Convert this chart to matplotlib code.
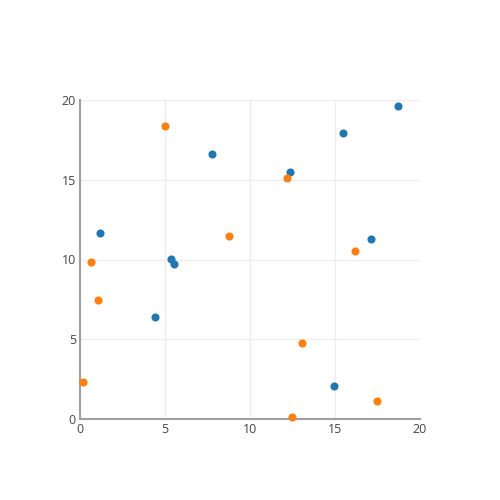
import matplotlib
matplotlib.use("Agg")
import matplotlib.pyplot as plt

blue_x = [1.15, 4.4, 5.35, 5.53, 7.75, 12.35, 15.47, 17.1, 14.95, 18.7]
blue_y = [11.66, 6.4, 10.05, 9.7, 16.6, 15.5, 17.93, 11.28, 2.05, 19.6]
orange_x = [0.65, 5.0, 8.76, 12.2, 16.16, 1.04, 0.2, 13.06, 12.49, 17.47]
orange_y = [9.86, 18.35, 11.47, 15.13, 10.53, 7.44, 2.34, 4.76, 0.15, 1.1]
ticks = [0, 5, 10, 15, 20]

plt.rcParams['font.family'] = ['Open Sans', 'DejaVu Sans']
fig = plt.figure(figsize=(5, 5), dpi=100)
ax = fig.add_axes([0.16, 0.162, 0.68, 0.638])
ax.scatter(blue_x, blue_y, s=34, color='#1f77b4', linewidths=0, zorder=3, clip_on=False)
ax.scatter(orange_x, orange_y, s=34, color='#ff7f0e', linewidths=0, zorder=3, clip_on=False)
ax.set_xlim(0, 20)
ax.set_ylim(0, 20)
ax.set_xticks(ticks)
ax.set_yticks(ticks)
ax.grid(True, color='#eeeeee', linewidth=1)
ax.set_axisbelow(True)
for s in ['top', 'right']:
    ax.spines[s].set_visible(False)
for s in ['left', 'bottom']:
    ax.spines[s].set_color('#a0a0a0')
    ax.spines[s].set_linewidth(1.5)
ax.tick_params(length=0, labelsize=9, labelcolor='#444444', pad=3)
fig.savefig('out.png', dpi=100, facecolor='white')
